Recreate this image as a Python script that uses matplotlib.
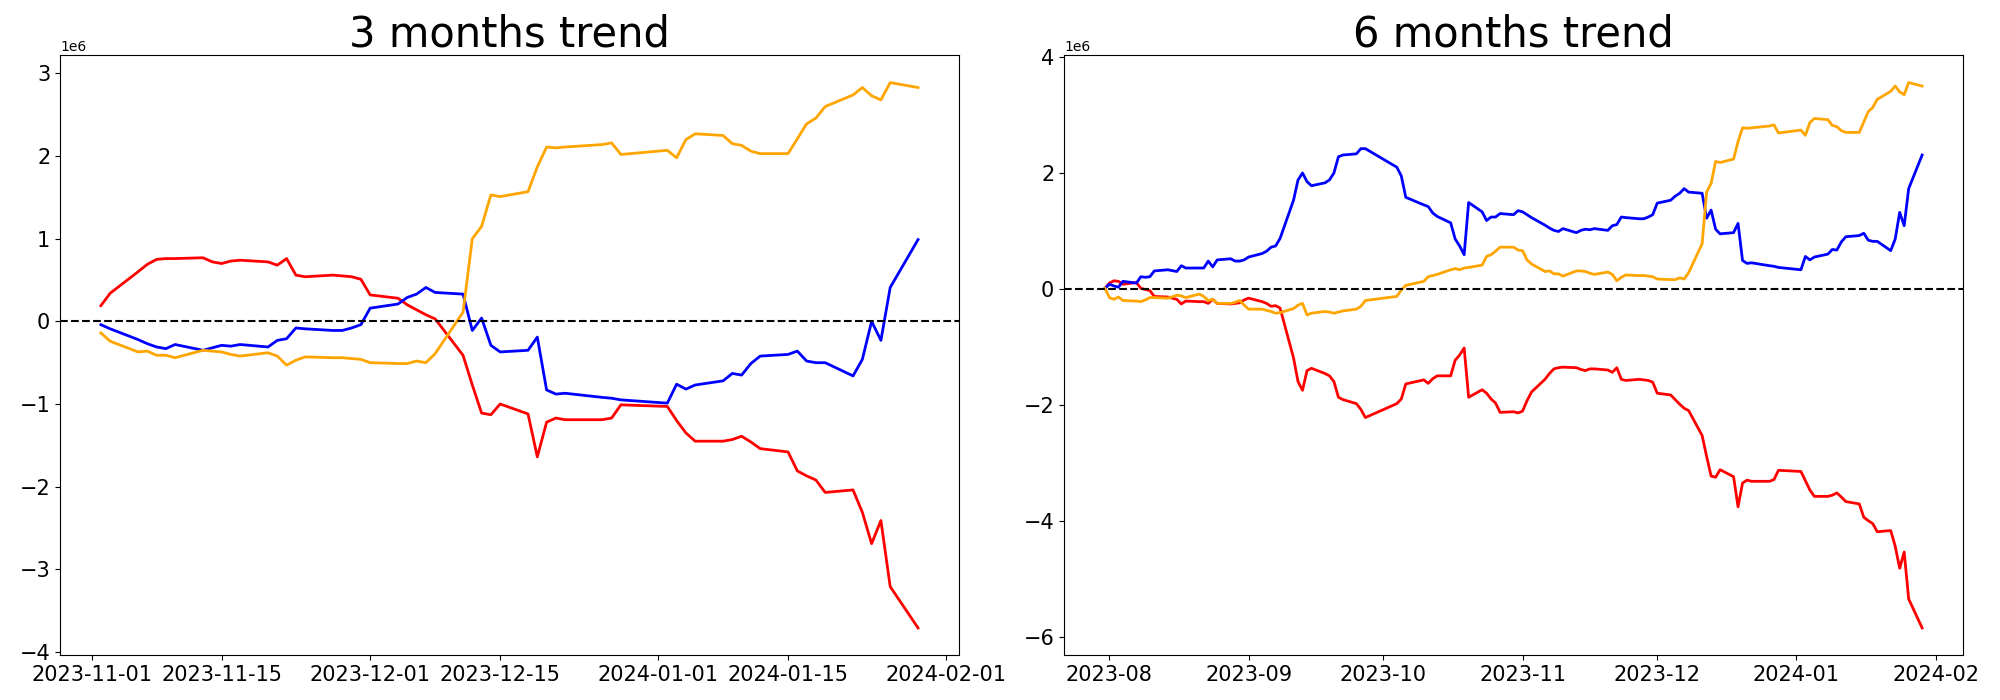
import numpy as np
import pandas as pd
import matplotlib
matplotlib.use("Agg")
import matplotlib.pyplot as plt
import matplotlib.dates as mdates

# trading days (KRX calendar)
holidays = ["2023-08-15", "2023-09-28", "2023-09-29", "2023-10-02", "2023-10-03",
            "2023-10-09", "2023-12-25", "2023-12-29", "2024-01-01"]
dates3 = pd.bdate_range("2023-11-02", "2024-01-29", freq="C", holidays=holidays)
dates6 = pd.bdate_range("2023-07-31", "2024-01-29", freq="C", holidays=holidays)

# 3 months, cumulative values in millions
red3 = [0.19, 0.34, 0.60, 0.69, 0.75, 0.76, 0.76, 0.77, 0.72, 0.70, 0.73, 0.74, 0.72, 0.68, 0.76,
        0.56, 0.54, 0.56, 0.55, 0.54, 0.51,
        0.32, 0.28, 0.20, 0.14, 0.08, 0.03, -0.41, -0.77, -1.11, -1.13, -1.00, -1.12, -1.64, -1.22,
        -1.17, -1.19, -1.19, -1.17, -1.01,
        -1.03, -1.20, -1.35, -1.45, -1.45, -1.43, -1.39, -1.46, -1.54, -1.58, -1.81, -1.87, -1.92,
        -2.07, -2.04, -2.31, -2.69, -2.41, -3.21, -3.71]
blue3 = [-0.04, -0.09, -0.22, -0.27, -0.31, -0.33, -0.28, -0.35, -0.32, -0.29, -0.30, -0.28, -0.31,
         -0.23, -0.21, -0.08, -0.09, -0.11, -0.11, -0.08, -0.04,
         0.16, 0.21, 0.29, 0.33, 0.41, 0.35, 0.33, -0.11, 0.04, -0.29, -0.37, -0.35, -0.19, -0.83,
         -0.88, -0.87, -0.92, -0.93, -0.95,
         -0.99, -0.76, -0.82, -0.77, -0.72, -0.63, -0.65, -0.51, -0.42, -0.40, -0.36, -0.48, -0.50,
         -0.50, -0.66, -0.46, 0.00, -0.23, 0.41, 0.99]
orange3 = [-0.14, -0.24, -0.37, -0.36, -0.41, -0.41, -0.44, -0.35, -0.36, -0.37, -0.40, -0.42, -0.38,
           -0.42, -0.53, -0.47, -0.43, -0.44, -0.44, -0.45, -0.46,
           -0.50, -0.51, -0.51, -0.48, -0.50, -0.39, 0.11, 1.00, 1.15, 1.53, 1.51, 1.57, 1.87, 2.11,
           2.10, 2.11, 2.14, 2.16, 2.02,
           2.07, 1.98, 2.20, 2.27, 2.25, 2.15, 2.13, 2.06, 2.03, 2.03, 2.21, 2.39, 2.46, 2.60, 2.74,
           2.83, 2.73, 2.68, 2.89, 2.83]

# 6 months, cumulative values in millions
red6 = [0.01,
        0.10, 0.14, 0.13, 0.08, 0.11, 0.01, -0.01, -0.03, -0.13, -0.14, -0.18, -0.26, -0.21, -0.22,
        -0.22, -0.25, -0.18, -0.25, -0.26, -0.25, -0.24, -0.19,
        -0.16, -0.22, -0.25, -0.30, -0.29, -0.33, -1.19, -1.60, -1.75, -1.41, -1.37, -1.46, -1.50,
        -1.60, -1.87, -1.91, -1.98, -2.08, -2.22,
        -1.98, -1.90, -1.64, -1.57, -1.63, -1.55, -1.50, -1.50, -1.23, -1.14, -1.02, -1.87, -1.74,
        -1.80, -1.90, -1.97, -2.13, -2.12, -2.14,
        -2.11, -1.93, -1.78, -1.56, -1.46, -1.38, -1.36, -1.35, -1.36, -1.39, -1.41, -1.38, -1.38,
        -1.40, -1.44, -1.36, -1.56, -1.58, -1.56, -1.57, -1.58, -1.61,
        -1.80, -1.83, -1.91, -1.99, -2.06, -2.10, -2.53, -2.89, -3.23, -3.25, -3.12, -3.24, -3.76,
        -3.35, -3.30, -3.32, -3.32, -3.29, -3.13,
        -3.15, -3.31, -3.47, -3.58, -3.58, -3.56, -3.52, -3.59, -3.67, -3.71, -3.94, -4.00, -4.05,
        -4.19, -4.17, -4.44, -4.82, -4.54, -5.35, -5.85]
blue6 = [0.01,
         0.08, 0.05, 0.03, 0.13, 0.10, 0.21, 0.20, 0.21, 0.31, 0.33, 0.30, 0.40, 0.36, 0.36, 0.36,
         0.48, 0.38, 0.50, 0.52, 0.48, 0.48, 0.50,
         0.55, 0.61, 0.65, 0.72, 0.74, 0.87, 1.53, 1.88, 2.00, 1.85, 1.78, 1.83, 1.88, 2.00, 2.28,
         2.31, 2.33, 2.42, 2.42,
         2.10, 1.95, 1.58, 1.45, 1.42, 1.31, 1.25, 1.14, 0.86, 0.74, 0.59, 1.49, 1.33, 1.18, 1.24,
         1.24, 1.30, 1.28, 1.35,
         1.33, 1.28, 1.23, 1.10, 1.05, 1.01, 0.99, 1.04, 0.97, 1.01, 1.03, 1.02, 1.04, 1.01, 1.09,
         1.11, 1.24, 1.23, 1.21, 1.21, 1.24, 1.28,
         1.48, 1.53, 1.60, 1.65, 1.73, 1.67, 1.65, 1.22, 1.36, 1.03, 0.95, 0.97, 1.13, 0.49, 0.44,
         0.45, 0.40, 0.39, 0.37,
         0.33, 0.56, 0.50, 0.55, 0.60, 0.68, 0.67, 0.81, 0.90, 0.92, 0.96, 0.84, 0.82, 0.82, 0.66,
         0.86, 1.32, 1.09, 1.73, 2.31]
orange6 = [0.01,
           -0.15, -0.18, -0.14, -0.20, -0.21, -0.22, -0.19, -0.15, -0.15, -0.16, -0.11, -0.12, -0.15,
           -0.09, -0.13, -0.20, -0.18, -0.25, -0.25, -0.23, -0.20, -0.28,
           -0.35, -0.35, -0.37, -0.39, -0.42, -0.41, -0.34, -0.28, -0.25, -0.45, -0.42, -0.39, -0.40,
           -0.42, -0.40, -0.38, -0.35, -0.30, -0.20,
           -0.13, -0.02, 0.06, 0.13, 0.21, 0.23, 0.25, 0.33, 0.35, 0.33, 0.36, 0.37, 0.41, 0.56, 0.59,
           0.65, 0.72, 0.72, 0.67,
           0.66, 0.50, 0.43, 0.30, 0.31, 0.26, 0.26, 0.22, 0.31, 0.31, 0.30, 0.27, 0.25, 0.29, 0.25,
           0.14, 0.20, 0.24, 0.23, 0.23, 0.22, 0.21,
           0.17, 0.16, 0.16, 0.19, 0.17, 0.28, 0.78, 1.67, 1.82, 2.20, 2.18, 2.24, 2.54, 2.78, 2.77,
           2.78, 2.81, 2.83, 2.69,
           2.74, 2.65, 2.87, 2.94, 2.92, 2.82, 2.80, 2.73, 2.70, 2.70, 2.88, 3.06, 3.13, 3.27, 3.41,
           3.50, 3.40, 3.35, 3.56, 3.50]

fig, axes = plt.subplots(1, 2, figsize=(20, 7), dpi=100)
fig.subplots_adjust(left=0.03, right=0.9815, bottom=0.064, top=0.921, wspace=0.117)

panels = [
    (axes[0], dates3, red3, blue3, orange3, "3 months trend",
     mdates.DayLocator(bymonthday=[1, 15]), "%Y-%m-%d"),
    (axes[1], dates6, red6, blue6, orange6, "6 months trend",
     mdates.MonthLocator(), "%Y-%m"),
]

for ax, d, r, b, o, title, locator, fmt in panels:
    ax.plot(d, np.array(r) * 1e6, color="red", linewidth=2)
    ax.plot(d, np.array(b) * 1e6, color="blue", linewidth=2)
    ax.plot(d, np.array(o) * 1e6, color="orange", linewidth=2)
    ax.axhline(0, color="black", linestyle="--", linewidth=1.5)
    ax.set_title(title, fontsize=30)
    ax.xaxis.set_major_locator(locator)
    ax.xaxis.set_major_formatter(mdates.DateFormatter(fmt))
    ax.tick_params(labelsize=15)
    ax.yaxis.get_offset_text().set_fontsize(10)

plt.savefig("out.png")
